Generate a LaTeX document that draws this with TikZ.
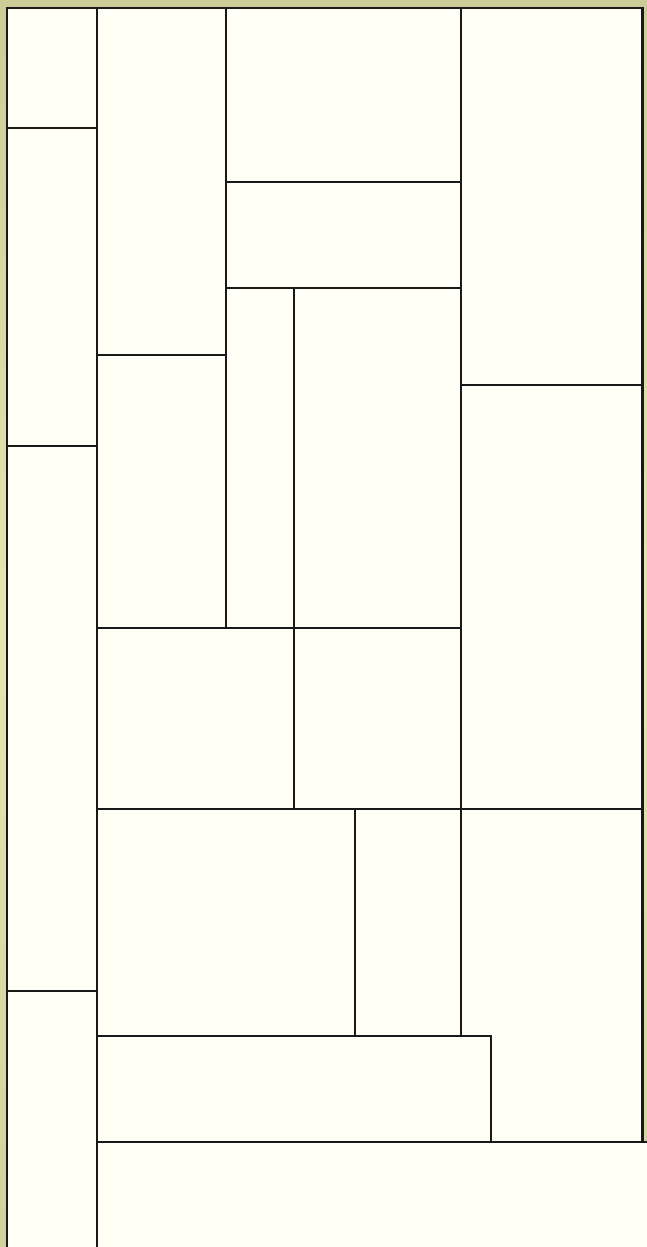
\documentclass[tikz,border=0pt]{standalone}
\usetikzlibrary{positioning}
\definecolor{khakitop}{RGB}{204,204,153}
\definecolor{khakimid}{RGB}{230,230,176}
\definecolor{cream}{RGB}{255,255,245}

\begin{document}
\begin{tikzpicture}[
  x=1pt, y=-1pt,
  cell/.style={
    draw=black!90,
    fill=cream,
    line width=1.4pt,
    inner sep=0pt,
    outer sep=0pt,
    anchor=north west,
  },
]
\useasboundingbox (0,0) rectangle (647,1247);
\clip (0,0) rectangle (647,1247);

% ---- backdrop and the sheet ------------------------------------------------
\shade[top color=khakitop, bottom color=khakitop!80!khakimid, middle color=khakimid]
  (0,0) rectangle (647,1247);
\node[cell, minimum width=636, minimum height=1260] (sheet) at (7,8) {};

% ---- left strip ------------------------------------------------------------
\node[cell, minimum width=90, minimum height=120] (a) at (7,8) {};
\node[cell, minimum width=90, minimum height=318] (b) at (7,128) {};
\node[cell, minimum width=90, minimum height=545] (c) at (7,446) {};
\node[cell, minimum width=90, minimum height=270] (d) at (7,991) {};

% ---- second column ---------------------------------------------------------
\node[cell, minimum width=129, minimum height=347] (e) at (97,8) {};
\node[cell, minimum width=129, minimum height=273] (f) at (97,355) {};

% ---- middle block ----------------------------------------------------------
\node[cell, minimum width=235, minimum height=174] (g) at (226,8) {};
\node[cell, minimum width=235, minimum height=106] (h) at (226,182) {};
\node[cell, minimum width=68,  minimum height=340] (i) at (226,288) {};
\node[cell, minimum width=167, minimum height=340] (j) at (294,288) {};

% ---- right column ----------------------------------------------------------
\node[cell, minimum width=181, minimum height=377] (k) at (461,8) {};
\node[cell, minimum width=181, minimum height=424] (l) at (461,385) {};

% ---- lower rows ------------------------------------------------------------
\node[cell, minimum width=197, minimum height=181] (m) at (97,628) {};
\node[cell, minimum width=167, minimum height=181] (n) at (294,628) {};
\node[cell, minimum width=258, minimum height=227] (o) at (97,809) {};
\node[cell, minimum width=106, minimum height=227] (p) at (355,809) {};
\node[cell, minimum width=181, minimum height=333] (q) at (461,809) {};
\node[cell, minimum width=394, minimum height=106] (r) at (97,1036) {};
\node[cell, minimum width=560, minimum height=130] (s) at (97,1142) {};

\end{tikzpicture}
\end{document}
